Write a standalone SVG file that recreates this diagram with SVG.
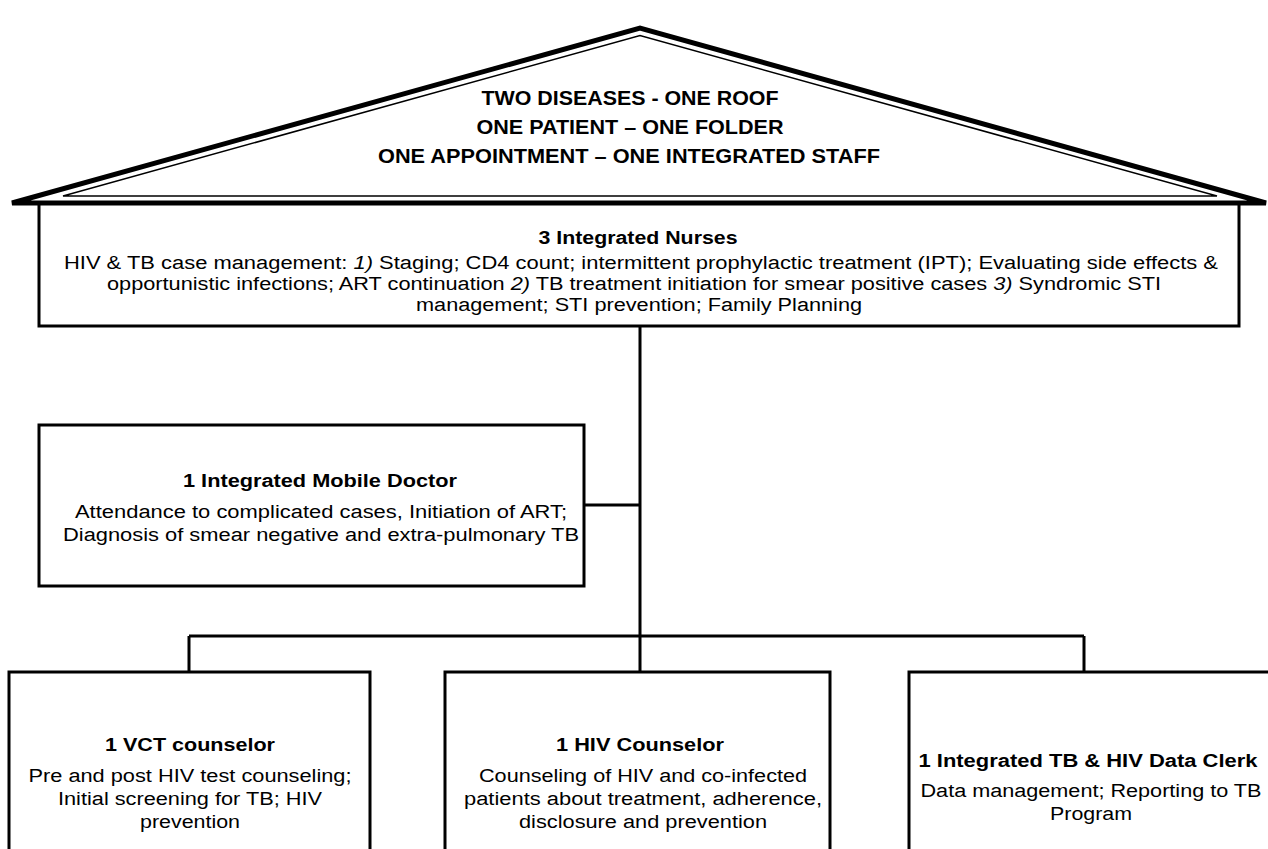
<svg xmlns="http://www.w3.org/2000/svg" width="1268" height="849" viewBox="0 0 1268 849">
<style>
.box{fill:#fff;stroke:#000;stroke-width:3}
.ln{fill:none;stroke:#000;stroke-width:3}
text{font-family:"Liberation Sans",Arial,sans-serif;fill:#000;text-anchor:middle}
.roof{font-size:20px;font-weight:bold}
.ttl{font-size:18px;font-weight:bold}
.bd{font-size:18px}
.it{font-style:italic}
</style>
<rect width="1268" height="849" fill="#fff"/>
<g id="roof">
<path d="M12,203 L640,28 L1266,203 Z" fill="#fff" stroke="#000" stroke-width="5" stroke-linejoin="miter"/>
<path d="M63,196 L640,35.5 L1217,196 Z" fill="none" stroke="#000" stroke-width="1.5"/>
<text class="roof" x="630" y="105" textLength="297" lengthAdjust="spacingAndGlyphs">TWO DISEASES - ONE ROOF</text>
<text class="roof" x="630" y="134" textLength="307" lengthAdjust="spacingAndGlyphs">ONE PATIENT – ONE FOLDER</text>
<text class="roof" x="629" y="163" textLength="502" lengthAdjust="spacingAndGlyphs">ONE APPOINTMENT – ONE INTEGRATED STAFF</text>
</g>
<g id="connectors">
<path class="ln" d="M640,326 V636 M584,505 H640 M189,636 H1084 M189,636 V672 M640,636 V672 M1084,636 V672"/>
</g>
<g id="nurses">
<path class="ln" d="M39,203 V326 H1239 V203"/>
<text class="ttl" x="638" y="244" textLength="199" lengthAdjust="spacingAndGlyphs">3 Integrated Nurses</text>
<text class="bd" x="641" y="269" textLength="1154" lengthAdjust="spacingAndGlyphs">HIV &amp; TB case management: <tspan class="it">1)</tspan> Staging; CD4 count; intermittent prophylactic treatment (IPT); Evaluating side effects &amp;</text>
<text class="bd" x="634" y="290" textLength="1054" lengthAdjust="spacingAndGlyphs">opportunistic infections; ART continuation <tspan class="it">2)</tspan> TB treatment initiation for smear positive cases <tspan class="it">3)</tspan> Syndromic STI</text>
<text class="bd" x="639" y="311" textLength="446" lengthAdjust="spacingAndGlyphs">management; STI prevention; Family Planning</text>
</g>
<g id="doctor">
<rect class="box" x="39" y="425" width="545" height="161"/>
<text class="ttl" x="320" y="487" textLength="274" lengthAdjust="spacingAndGlyphs">1 Integrated Mobile Doctor</text>
<text class="bd" x="321" y="518" textLength="492" lengthAdjust="spacingAndGlyphs">Attendance to complicated cases, Initiation of ART;</text>
<text class="bd" x="321" y="541" textLength="516" lengthAdjust="spacingAndGlyphs">Diagnosis of smear negative and extra-pulmonary TB</text>
</g>
<g id="vct">
<path class="ln" d="M9,855 V672 H370 V855"/>
<text class="ttl" x="190" y="751" textLength="170" lengthAdjust="spacingAndGlyphs">1 VCT counselor</text>
<text class="bd" x="190" y="782" textLength="323" lengthAdjust="spacingAndGlyphs">Pre and post HIV test counseling;</text>
<text class="bd" x="190" y="805" textLength="264" lengthAdjust="spacingAndGlyphs">Initial screening for TB; HIV</text>
<text class="bd" x="190" y="828" textLength="100" lengthAdjust="spacingAndGlyphs">prevention</text>
</g>
<g id="hivcounselor">
<path class="ln" d="M445,855 V672 H830 V855"/>
<text class="ttl" x="640" y="751" textLength="168" lengthAdjust="spacingAndGlyphs">1 HIV Counselor</text>
<text class="bd" x="643" y="782" textLength="328" lengthAdjust="spacingAndGlyphs">Counseling of HIV and co-infected</text>
<text class="bd" x="643" y="805" textLength="358" lengthAdjust="spacingAndGlyphs">patients about treatment, adherence,</text>
<text class="bd" x="643" y="828" textLength="248" lengthAdjust="spacingAndGlyphs">disclosure and prevention</text>
</g>
<g id="dataclerk">
<path class="ln" d="M909,855 V672 H1275"/>
<text class="ttl" x="1088" y="767" textLength="339" lengthAdjust="spacingAndGlyphs">1 Integrated TB &amp; HIV Data Clerk</text>
<text class="bd" x="1091" y="797" textLength="341" lengthAdjust="spacingAndGlyphs">Data management; Reporting to TB</text>
<text class="bd" x="1091" y="820" textLength="82" lengthAdjust="spacingAndGlyphs">Program</text>
</g>
</svg>
